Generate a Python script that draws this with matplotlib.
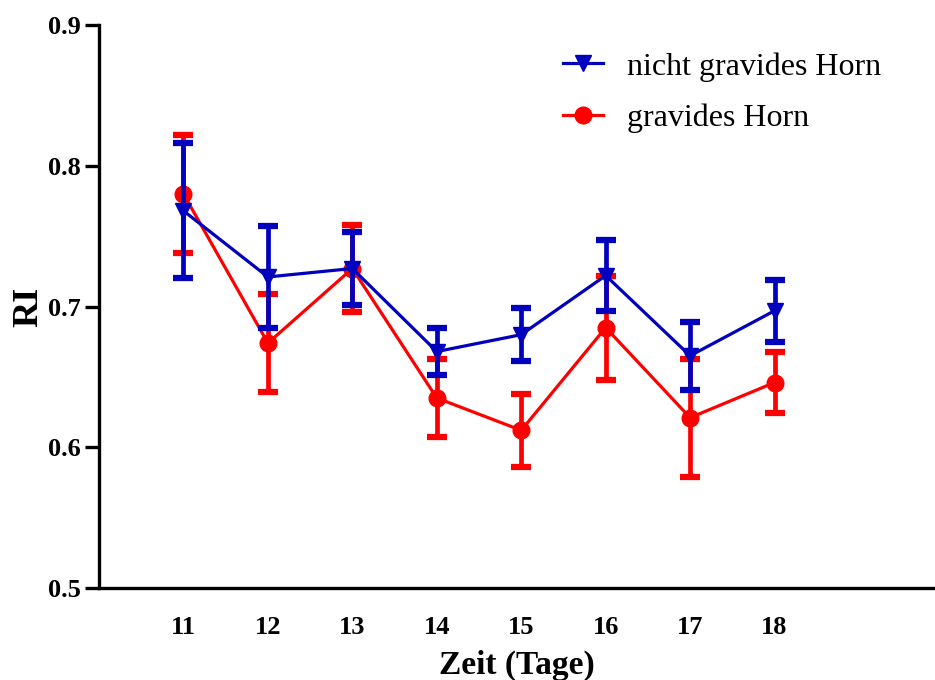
import matplotlib
matplotlib.use("Agg")
import matplotlib.pyplot as plt
from matplotlib.lines import Line2D

# Days of measurement
days = [11, 12, 13, 14, 15, 16, 17, 18]

# Resistance index (mean ± SEM), non-pregnant horn
ri_nicht = [0.768, 0.721, 0.727, 0.668, 0.680, 0.722, 0.665, 0.697]
sem_nicht = [0.048, 0.036, 0.026, 0.017, 0.019, 0.025, 0.024, 0.022]

# Resistance index (mean ± SEM), pregnant horn
ri_grav = [0.780, 0.674, 0.727, 0.635, 0.612, 0.685, 0.621, 0.646]
sem_grav = [0.042, 0.035, 0.031, 0.028, 0.026, 0.037, 0.042, 0.022]

labels = ["nicht gravides Horn", "gravides Horn"]
yticks = [0.5, 0.6, 0.7, 0.8, 0.9]

BLUE = "#0000BE"
RED = "#FF0000"
SERIF = "Liberation Serif"

fig = plt.figure(figsize=(9.35, 6.8), dpi=100)
ax = fig.add_axes([0.1059, 0.1353, 0.8941, 0.8279])

ax.errorbar(days, ri_grav, yerr=sem_grav, color=RED, lw=2.3, marker="o",
            ms=12, elinewidth=3.4, capsize=7.5, capthick=4.5, zorder=2)
ax.errorbar(days, ri_nicht, yerr=sem_nicht, color=BLUE, lw=2.3, marker="v",
            ms=12, elinewidth=3.4, capsize=7.5, capthick=4.5, zorder=3)

ax.set_xlim(10, 19.9)
ax.set_ylim(0.5, 0.9)
ax.set_xticks(days)
ax.set_xticklabels([str(d) for d in days])
ax.set_yticks(yticks)
ax.set_yticklabels([f"{v:.1f}" for v in yticks])

for side in ("top", "right"):
    ax.spines[side].set_visible(False)
for side in ("left", "bottom"):
    ax.spines[side].set_linewidth(2.4)

ax.tick_params(axis="y", length=10, width=2.4, pad=3)
ax.tick_params(axis="x", length=0, pad=20)
for lab in ax.get_xticklabels() + ax.get_yticklabels():
    lab.set_fontfamily(SERIF)
    lab.set_fontweight("bold")
    lab.set_fontsize(19)

ax.set_ylabel("RI", fontfamily=SERIF, fontweight="bold", fontsize=26, labelpad=2)
ax.set_xlabel("Zeit (Tage)", fontfamily=SERIF, fontweight="bold", fontsize=24, labelpad=8)

handles = [
    Line2D([], [], color=BLUE, lw=2.3, marker="v", ms=12),
    Line2D([], [], color=RED, lw=2.3, marker="o", ms=12),
]
ax.legend(handles, labels, loc="upper left", bbox_to_anchor=(0.521, 1.003),
          frameon=False, prop={"family": SERIF, "size": 23},
          handlelength=1.25, handletextpad=0.75, labelspacing=0.7)

fig.savefig("out.png", dpi=100)
